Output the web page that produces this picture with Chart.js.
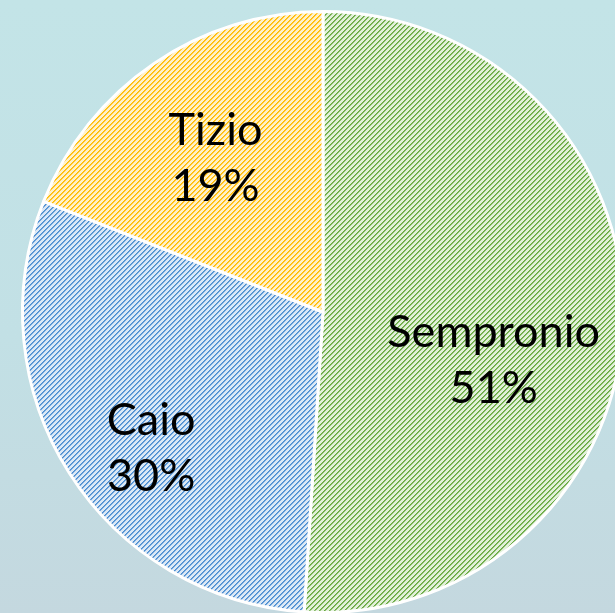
<!DOCTYPE html>
<html>
<head>
<meta charset="utf-8">
<script src="https://cdn.jsdelivr.net/npm/chart.js@4/dist/chart.umd.min.js"></script>
<style>
  html, body {
    margin: 0;
    padding: 0;
    width: 615px;
    height: 613px;
    overflow: hidden;
    background: linear-gradient(180deg, #c3e4e7 0%, #c2e0e5 55%, #c4d8df 100%);
  }
  #wrap { position: absolute; left: 0; top: 0; }
</style>
</head>
<body>
<div id="wrap"><canvas id="pie" width="646" height="624"></canvas></div>
<script>
const names = ["Sempronio", "Caio", "Tizio"];
const shares = [51, 30, 19];

// hatch colours: [background, line]
const hatchColors = [
  ["#e2f0d9", "#66a83f"],
  ["#dbe8f6", "#4a8dd0"],
  ["#fff1cb", "#ffbb00"],
];

// where each label sits: fraction of radius and angle shift (deg) from the slice middle
const labelPlacement = [
  { r: 0.59, shift: 13.9 },
  { r: 0.73, shift: -6 },
  { r: 0.625, shift: -0.7 },
];

const makeHatch = (bg, fg) => {
  const size = 5;
  const tile = document.createElement("canvas");
  tile.width = size;
  tile.height = size;
  const t = tile.getContext("2d");
  t.fillStyle = bg;
  t.fillRect(0, 0, size, size);
  for (let i = 0; i < size; i++) {
    t.fillStyle = fg;
    t.fillRect(i, size - 1 - i, 1, 1);
    t.globalAlpha = 0.7;
    t.fillRect((i + 1) % size, size - 1 - i, 1, 1);
    t.globalAlpha = 1;
  }
  return t.createPattern(tile, "repeat");
};

const pieLabels = {
  id: "pieLabels",
  afterDatasetsDraw(chart) {
    const { ctx } = chart;
    const meta = chart.getDatasetMeta(0);
    const values = chart.data.datasets[0].data;
    const total = values.reduce((acc, v) => acc + v, 0);
    ctx.save();
    ctx.font = "45px Lato";
    ctx.fillStyle = "#000000";
    ctx.textAlign = "center";
    ctx.textBaseline = "alphabetic";
    meta.data.forEach((arc, i) => {
      const p = labelPlacement[i];
      const mid = (arc.startAngle + arc.endAngle) / 2 + (p.shift * Math.PI) / 180;
      const x = arc.x + Math.cos(mid) * arc.outerRadius * p.r;
      const y = arc.y + Math.sin(mid) * arc.outerRadius * p.r;
      const pct = Math.round((values[i] / total) * 100) + "%";
      ctx.fillText(chart.data.labels[i], x, y - 13);
      ctx.fillText(pct, x, y + 43);
    });
    ctx.restore();
  },
};

new Chart(document.getElementById("pie"), {
  type: "pie",
  data: {
    labels: names,
    datasets: [
      {
        data: shares,
        backgroundColor: hatchColors.map(([bg, fg]) => makeHatch(bg, fg)),
        borderColor: "#ffffff",
        borderWidth: 3,
      },
    ],
  },
  options: {
    responsive: false,
    animation: false,
    layout: { padding: 10 },
    plugins: {
      legend: { display: false },
      tooltip: { enabled: false },
    },
  },
  plugins: [pieLabels],
});
</script>
</body>
</html>
